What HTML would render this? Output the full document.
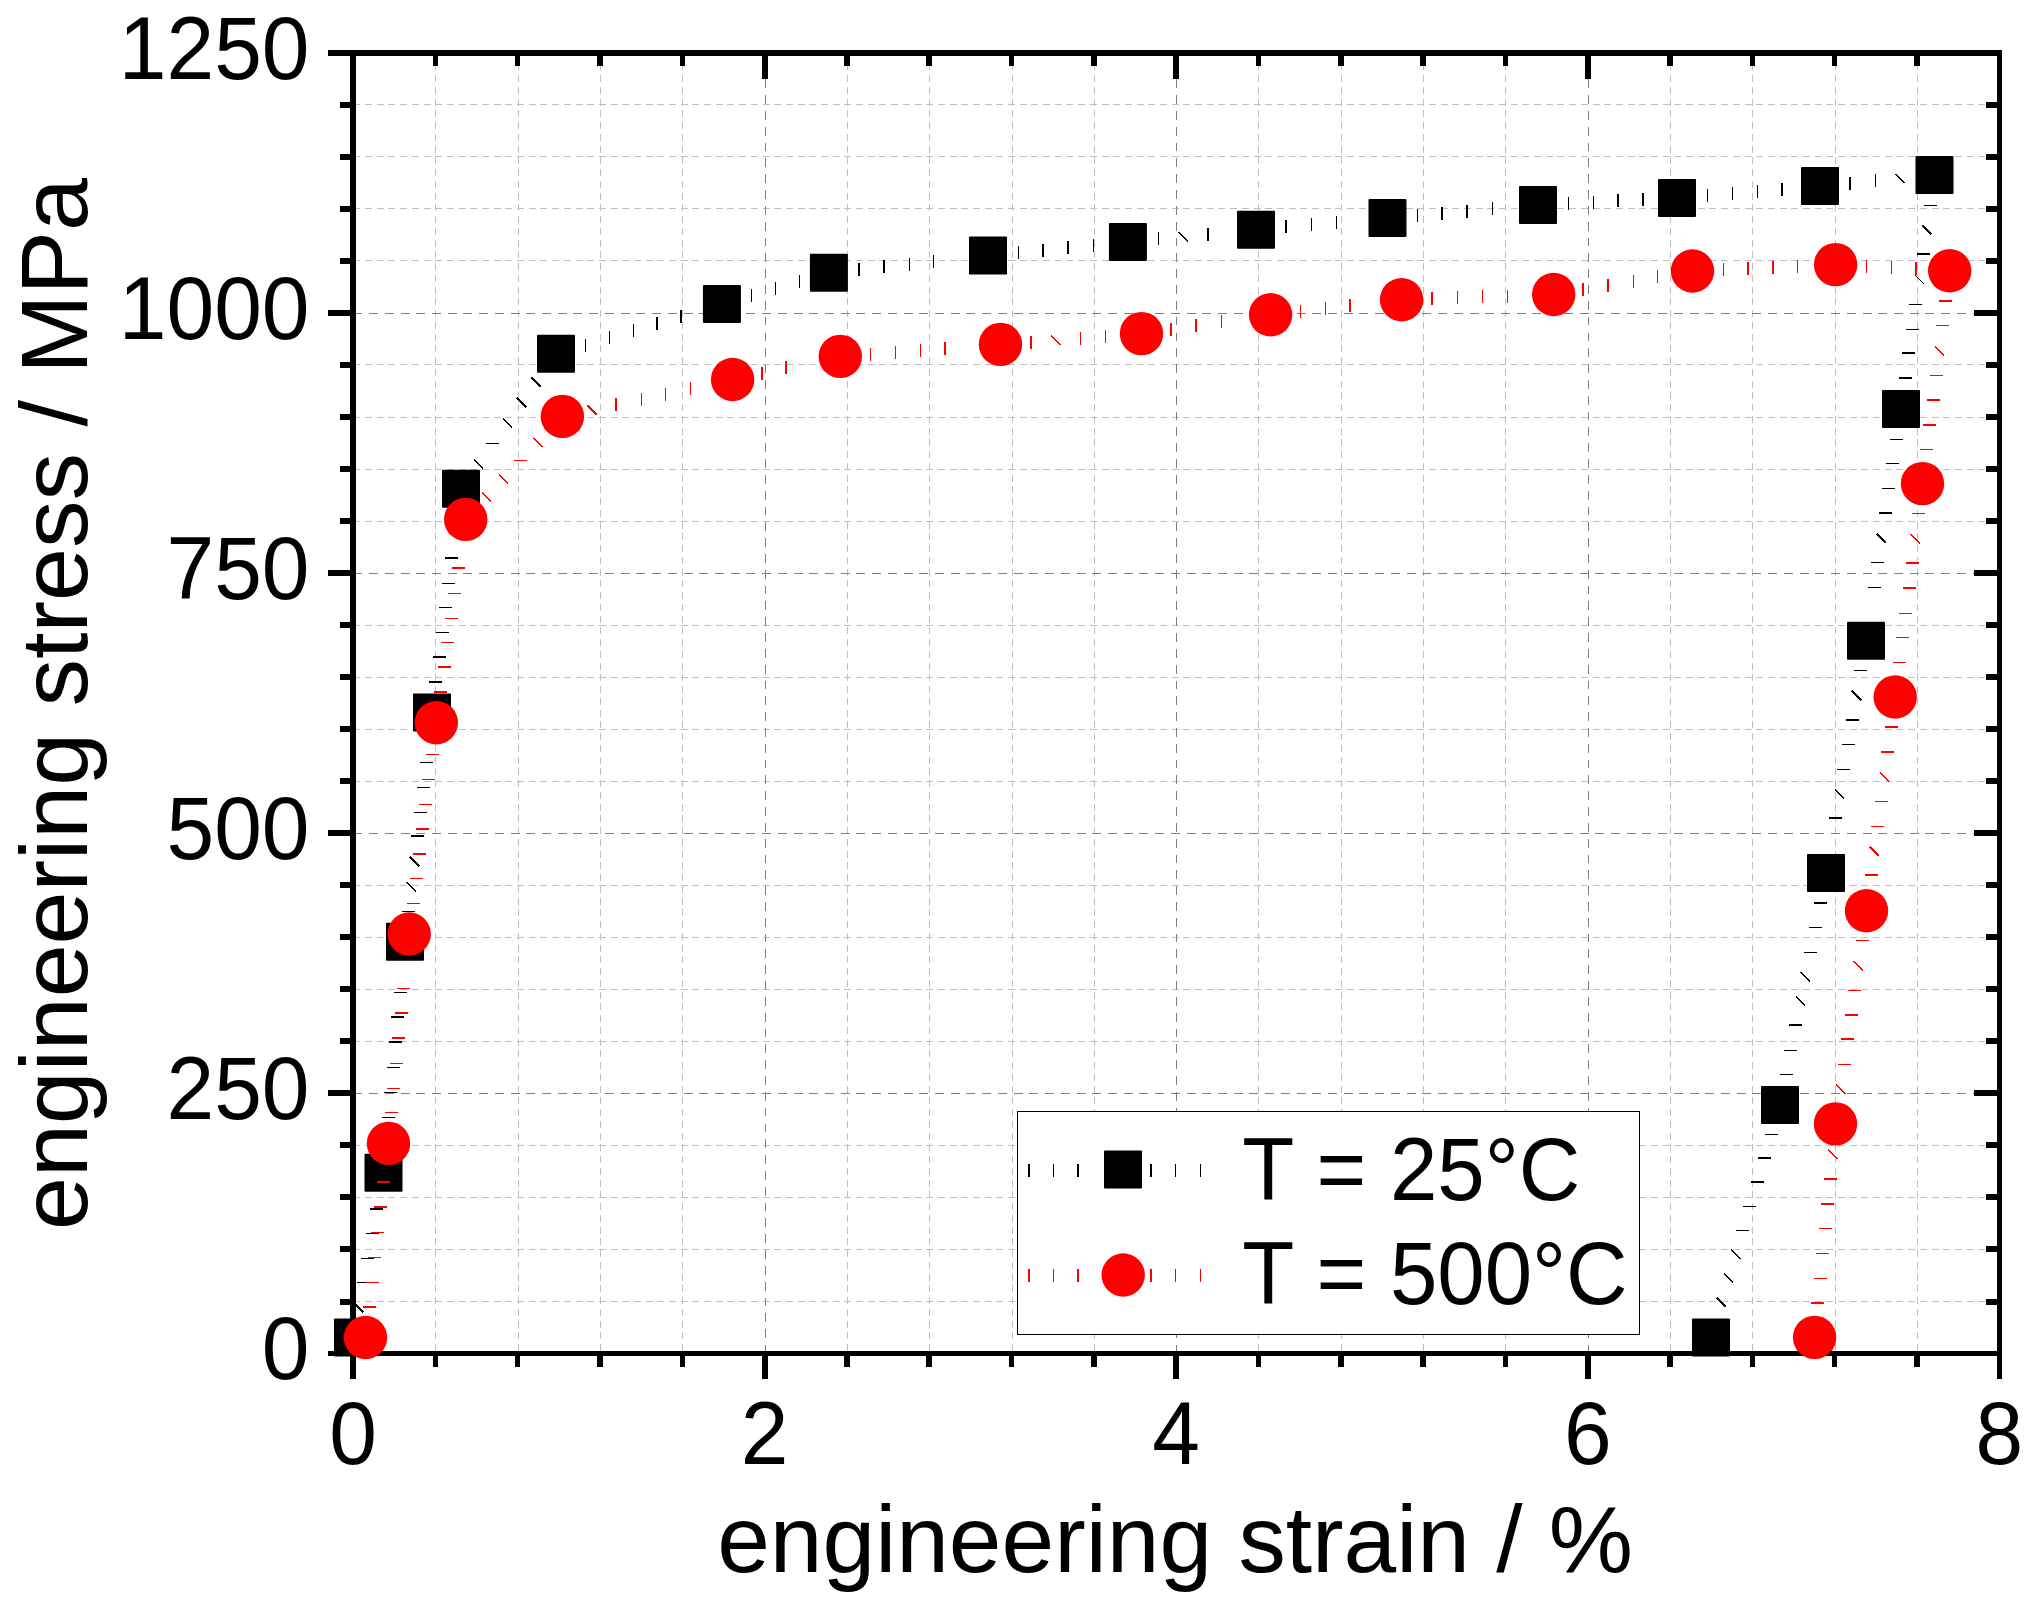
<!DOCTYPE html>
<html lang="en"><head><meta charset="utf-8"><title>engineering stress / strain</title>
<style>html,body{margin:0;padding:0;background:#fff}body{width:2033px;height:1606px;overflow:hidden}svg{display:block}text{font-family:"Liberation Sans", sans-serif;fill:#000}</style>
</head><body>
<svg width="2033" height="1606" viewBox="0 0 2033 1606">
<rect x="0" y="0" width="2033" height="1606" fill="#fff"/>
<g fill="none" stroke-width="1" shape-rendering="crispEdges">
<g stroke="#bfbfbf">
<g stroke-dasharray="7 4.75" stroke-dashoffset="1.4">
<line x1="435.5" y1="53" x2="435.5" y2="1353.5"/>
<line x1="518.5" y1="53" x2="518.5" y2="1353.5"/>
<line x1="600.5" y1="53" x2="600.5" y2="1353.5"/>
<line x1="682.5" y1="53" x2="682.5" y2="1353.5"/>
<line x1="847.5" y1="53" x2="847.5" y2="1353.5"/>
<line x1="929.5" y1="53" x2="929.5" y2="1353.5"/>
<line x1="1012.5" y1="53" x2="1012.5" y2="1353.5"/>
<line x1="1094.5" y1="53" x2="1094.5" y2="1353.5"/>
<line x1="1258.5" y1="53" x2="1258.5" y2="1353.5"/>
<line x1="1341.5" y1="53" x2="1341.5" y2="1353.5"/>
<line x1="1423.5" y1="53" x2="1423.5" y2="1353.5"/>
<line x1="1505.5" y1="53" x2="1505.5" y2="1353.5"/>
<line x1="1670.5" y1="53" x2="1670.5" y2="1353.5"/>
<line x1="1752.5" y1="53" x2="1752.5" y2="1353.5"/>
<line x1="1835.5" y1="53" x2="1835.5" y2="1353.5"/>
<line x1="1917.5" y1="53" x2="1917.5" y2="1353.5"/>
</g>
<g stroke-dasharray="7 4.69">
<line x1="353.4" y1="1301.5" x2="1999" y2="1301.5"/>
<line x1="353.4" y1="1249.5" x2="1999" y2="1249.5"/>
<line x1="353.4" y1="1197.5" x2="1999" y2="1197.5"/>
<line x1="353.4" y1="1145.5" x2="1999" y2="1145.5"/>
<line x1="353.4" y1="1041.5" x2="1999" y2="1041.5"/>
<line x1="353.4" y1="989.5" x2="1999" y2="989.5"/>
<line x1="353.4" y1="937.5" x2="1999" y2="937.5"/>
<line x1="353.4" y1="885.5" x2="1999" y2="885.5"/>
<line x1="353.4" y1="781.5" x2="1999" y2="781.5"/>
<line x1="353.4" y1="729.5" x2="1999" y2="729.5"/>
<line x1="353.4" y1="677.5" x2="1999" y2="677.5"/>
<line x1="353.4" y1="625.5" x2="1999" y2="625.5"/>
<line x1="353.4" y1="521.5" x2="1999" y2="521.5"/>
<line x1="353.4" y1="469.5" x2="1999" y2="469.5"/>
<line x1="353.4" y1="417.5" x2="1999" y2="417.5"/>
<line x1="353.4" y1="364.5" x2="1999" y2="364.5"/>
<line x1="353.4" y1="260.5" x2="1999" y2="260.5"/>
<line x1="353.4" y1="208.5" x2="1999" y2="208.5"/>
<line x1="353.4" y1="156.5" x2="1999" y2="156.5"/>
<line x1="353.4" y1="104.5" x2="1999" y2="104.5"/>
</g>
</g>
<g stroke="#808080">
<g stroke-dasharray="8.8 7.02" stroke-dashoffset="5.26">
<line x1="765.5" y1="53" x2="765.5" y2="1353.5"/>
<line x1="1176.5" y1="53" x2="1176.5" y2="1353.5"/>
<line x1="1588.5" y1="53" x2="1588.5" y2="1353.5"/>
</g>
<g stroke-dasharray="9 6.72">
<line x1="353.4" y1="1093.5" x2="1999" y2="1093.5"/>
<line x1="353.4" y1="833.5" x2="1999" y2="833.5"/>
<line x1="353.4" y1="573.5" x2="1999" y2="573.5"/>
<line x1="353.4" y1="313.5" x2="1999" y2="313.5"/>
</g>
</g>
</g>
<g fill="#000" shape-rendering="crispEdges">
<rect x="328" y="50" width="1674" height="6"/>
<rect x="328" y="1351" width="1674" height="5"/>
<rect x="350" y="50" width="6" height="1329"/>
<rect x="1997" y="50" width="5" height="1329"/>
<rect x="433" y="1356" width="5" height="11"/>
<rect x="433" y="56" width="5" height="10"/>
<rect x="515" y="1356" width="5" height="11"/>
<rect x="515" y="56" width="5" height="10"/>
<rect x="597" y="1356" width="6" height="11"/>
<rect x="597" y="56" width="6" height="10"/>
<rect x="680" y="1356" width="5" height="11"/>
<rect x="680" y="56" width="5" height="10"/>
<rect x="762" y="1356" width="6" height="23"/>
<rect x="762" y="56" width="6" height="23"/>
<rect x="844" y="1356" width="6" height="11"/>
<rect x="844" y="56" width="6" height="10"/>
<rect x="926" y="1356" width="6" height="11"/>
<rect x="926" y="56" width="6" height="10"/>
<rect x="1009" y="1356" width="5" height="11"/>
<rect x="1009" y="56" width="5" height="10"/>
<rect x="1091" y="1356" width="6" height="11"/>
<rect x="1091" y="56" width="6" height="10"/>
<rect x="1173" y="1356" width="6" height="23"/>
<rect x="1173" y="56" width="6" height="23"/>
<rect x="1256" y="1356" width="5" height="11"/>
<rect x="1256" y="56" width="5" height="10"/>
<rect x="1338" y="1356" width="6" height="11"/>
<rect x="1338" y="56" width="6" height="10"/>
<rect x="1420" y="1356" width="6" height="11"/>
<rect x="1420" y="56" width="6" height="10"/>
<rect x="1503" y="1356" width="5" height="11"/>
<rect x="1503" y="56" width="5" height="10"/>
<rect x="1585" y="1356" width="6" height="23"/>
<rect x="1585" y="56" width="6" height="23"/>
<rect x="1667" y="1356" width="6" height="11"/>
<rect x="1667" y="56" width="6" height="10"/>
<rect x="1750" y="1356" width="5" height="11"/>
<rect x="1750" y="56" width="5" height="10"/>
<rect x="1832" y="1356" width="5" height="11"/>
<rect x="1832" y="56" width="5" height="10"/>
<rect x="1914" y="1356" width="6" height="11"/>
<rect x="1914" y="56" width="6" height="10"/>
<rect x="340" y="1299" width="10" height="6"/>
<rect x="1986" y="1299" width="11" height="6"/>
<rect x="340" y="1246" width="10" height="6"/>
<rect x="1986" y="1246" width="11" height="6"/>
<rect x="340" y="1194" width="10" height="6"/>
<rect x="1986" y="1194" width="11" height="6"/>
<rect x="340" y="1142" width="10" height="6"/>
<rect x="1986" y="1142" width="11" height="6"/>
<rect x="328" y="1090" width="22" height="6"/>
<rect x="1974" y="1090" width="23" height="6"/>
<rect x="340" y="1038" width="10" height="6"/>
<rect x="1986" y="1038" width="11" height="6"/>
<rect x="340" y="986" width="10" height="6"/>
<rect x="1986" y="986" width="11" height="6"/>
<rect x="340" y="934" width="10" height="6"/>
<rect x="1986" y="934" width="11" height="6"/>
<rect x="340" y="882" width="10" height="6"/>
<rect x="1986" y="882" width="11" height="6"/>
<rect x="328" y="830" width="22" height="6"/>
<rect x="1974" y="830" width="23" height="6"/>
<rect x="340" y="778" width="10" height="6"/>
<rect x="1986" y="778" width="11" height="6"/>
<rect x="340" y="726" width="10" height="6"/>
<rect x="1986" y="726" width="11" height="6"/>
<rect x="340" y="674" width="10" height="6"/>
<rect x="1986" y="674" width="11" height="6"/>
<rect x="340" y="622" width="10" height="6"/>
<rect x="1986" y="622" width="11" height="6"/>
<rect x="328" y="570" width="22" height="6"/>
<rect x="1974" y="570" width="23" height="6"/>
<rect x="340" y="518" width="10" height="6"/>
<rect x="1986" y="518" width="11" height="6"/>
<rect x="340" y="466" width="10" height="6"/>
<rect x="1986" y="466" width="11" height="6"/>
<rect x="340" y="414" width="10" height="6"/>
<rect x="1986" y="414" width="11" height="6"/>
<rect x="340" y="362" width="10" height="6"/>
<rect x="1986" y="362" width="11" height="6"/>
<rect x="328" y="310" width="22" height="6"/>
<rect x="1974" y="310" width="23" height="6"/>
<rect x="340" y="258" width="10" height="6"/>
<rect x="1986" y="258" width="11" height="6"/>
<rect x="340" y="206" width="10" height="6"/>
<rect x="1986" y="206" width="11" height="6"/>
<rect x="340" y="154" width="10" height="6"/>
<rect x="1986" y="154" width="11" height="6"/>
<rect x="340" y="102" width="10" height="6"/>
<rect x="1986" y="102" width="11" height="6"/>
</g>
<g fill="none" stroke="#000" shape-rendering="crispEdges">
<path d="M357.0 1282.5h13.0M361.0 1258.5h13.0M366.0 1233.5h13.0M382.0 1117.5h13.0M384.0 1092.5h13.0M387.0 1067.5h13.0M394.0 992.5h13.0M402.0 911.5h13.0M406.9 882.0l9.2 9.2M414.0 812.5h13.0M417.0 787.5h13.0M420.0 762.5h13.0M436.0 632.5h13.0M439.0 607.5h13.0M442.0 583.5h13.0M474.0 459.2l9.2 9.2M486.0 443.5h13.0M502.8 418.3l9.2 9.2M585.5 339.0v13.0M609.5 331.0v13.0M633.5 324.0v13.0M751.5 289.0v13.0M775.5 282.0v13.0M799.5 275.0v13.0M909.5 258.0v13.0M933.5 255.0v13.0M1018.5 246.0v13.0M1093.5 239.0v13.0M1158.5 232.0v13.0M1178.7 232.0l9.2 9.2M1311.5 218.0v13.0M1336.5 216.0v13.0M1417.5 209.0v13.0M1492.5 202.0v13.0M1568.5 197.0v13.0M1593.5 196.0v13.0M1707.5 189.0v13.0M1732.5 187.0v13.0M1757.5 185.0v13.0M1875.5 174.0v13.0M1895.6 173.7l9.2 9.2M1924.0 205.5h13.0M1914.9 274.9l9.2 9.2M1909.0 304.5h13.0M1906.0 329.5h13.0M1890.0 439.5h13.0M1886.0 463.5h13.0M1882.0 488.5h13.0M1871.0 562.5h13.0M1868.0 587.5h13.0M1854.0 670.5h13.0M1842.0 744.5h13.0M1837.0 769.5h13.0M1835.0 789.5l9.2 9.2M1809.0 927.5h13.0M1804.0 952.5h13.0M1800.9 972.0l9.2 9.2M1784.0 1050.5h13.0M1780.0 1074.5h13.0M1765.0 1134.5h13.0M1743.0 1206.5h13.0M1736.0 1230.5h13.0M1731.1 1249.6l9.2 9.2" stroke-width="1.3"/>
<path d="M354.0 1302.8l9.2 9.2M370.0 1209.0h13.0M380.0 1142.0h13.0M389.0 1042.0h13.0M391.0 1017.0h13.0M409.8 857.2l9.2 9.2M411.0 836.0h13.0M429.0 682.0h13.0M433.0 657.0h13.0M445.0 558.0h13.0M449.0 533.0h13.0M517.2 397.8l9.2 9.2M531.6 377.4l9.2 9.2M657.0 317.0v13.0M681.0 310.0v13.0M859.0 263.0v13.0M884.0 260.0v13.0M1043.0 244.0v13.0M1068.0 241.0v13.0M1208.0 228.0v13.0M1286.0 220.0v13.0M1442.0 207.0v13.0M1467.0 205.0v13.0M1618.0 194.0v13.0M1643.0 193.0v13.0M1782.0 183.0v13.0M1850.0 177.0v13.0M1922.0 225.4l9.2 9.2M1917.0 254.0h13.0M1902.0 353.0h13.0M1899.0 378.0h13.0M1879.0 513.0h13.0M1876.9 533.5l9.2 9.2M1852.0 691.0l9.2 9.2M1846.0 720.0h13.0M1829.0 818.0h13.0M1814.0 903.0h13.0M1796.0 996.5l9.2 9.2M1789.0 1025.0h13.0M1758.0 1158.0h13.0M1751.0 1182.0h13.0M1724.0 1273.5l9.2 9.2M1716.9 1297.5l9.2 9.2" stroke-width="2"/>
</g>
<g fill="#000">
<rect x="334.0" y="1318.5" width="38" height="38" rx="1"/>
<rect x="364.5" y="1153.8" width="38" height="38" rx="1"/>
<rect x="386.0" y="922.8" width="38" height="38" rx="1"/>
<rect x="413.0" y="693.6" width="38" height="38" rx="1"/>
<rect x="442.0" y="469.8" width="38" height="38" rx="1"/>
<rect x="537.0" y="334.8" width="38" height="38" rx="1"/>
<rect x="702.9" y="285.0" width="38" height="38" rx="1"/>
<rect x="809.9" y="253.8" width="38" height="38" rx="1"/>
<rect x="969.0" y="236.4" width="38" height="38" rx="1"/>
<rect x="1108.9" y="222.9" width="38" height="38" rx="1"/>
<rect x="1237.0" y="210.7" width="38" height="38" rx="1"/>
<rect x="1368.5" y="199.0" width="38" height="38" rx="1"/>
<rect x="1519.0" y="186.0" width="38" height="38" rx="1"/>
<rect x="1658.0" y="179.0" width="38" height="38" rx="1"/>
<rect x="1801.0" y="167.0" width="38" height="38" rx="1"/>
<rect x="1915.5" y="156.0" width="38" height="38" rx="1"/>
<rect x="1882.0" y="390.0" width="38" height="38" rx="1"/>
<rect x="1847.0" y="621.8" width="38" height="38" rx="1"/>
<rect x="1807.0" y="854.0" width="38" height="38" rx="1"/>
<rect x="1761.0" y="1086.0" width="38" height="38" rx="1"/>
<rect x="1692.0" y="1318.5" width="38" height="38" rx="1"/>
</g>
<g fill="none" stroke="#f00" shape-rendering="crispEdges">
<path d="M366.0 1282.5h13.0M368.0 1257.5h13.0M371.0 1232.5h13.0M385.0 1112.5h13.0M387.0 1088.5h13.0M390.0 1063.5h13.0M397.0 988.5h13.0M407.0 903.5h13.0M410.0 878.5h13.0M419.0 804.5h13.0M422.0 779.5h13.0M426.0 754.5h13.0M441.0 642.5h13.0M445.0 618.5h13.0M448.0 593.5h13.0M499.2 474.3l9.2 9.2M514.0 460.5h13.0M533.4 437.8l9.2 9.2M641.5 393.0v13.0M665.5 388.0v13.0M690.5 382.0v13.0M870.5 348.0v13.0M895.5 346.0v13.0M920.5 344.0v13.0M1051.3 335.6l9.2 9.2M1080.5 332.0v13.0M1105.5 330.0v13.0M1221.5 315.0v13.0M1300.5 305.0v13.0M1325.5 302.0v13.0M1457.5 291.0v13.0M1482.5 290.0v13.0M1507.5 290.0v13.0M1633.5 275.0v13.0M1657.5 270.0v13.0M1723.5 263.0v13.0M1797.5 260.0v13.0M1866.5 260.0v13.0M1891.5 261.0v13.0M1936.0 325.5h13.0M1934.9 346.2l9.2 9.2M1930.0 375.5h13.0M1920.0 449.5h13.0M1912.0 513.5h13.0M1910.8 534.2l9.2 9.2M1899.0 613.5h13.0M1896.0 637.5h13.0M1893.0 662.5h13.0M1879.9 772.3l9.2 9.2M1875.0 801.5h13.0M1871.0 826.5h13.0M1856.0 940.5h13.0M1853.9 961.1l9.2 9.2M1848.0 990.5h13.0M1838.0 1064.5h13.0M1835.9 1084.8l9.2 9.2M1827.9 1149.8l9.2 9.2M1819.0 1228.5h13.0M1816.0 1253.5h13.0M1814.0 1278.5h13.0" stroke-width="1.3"/>
<path d="M363.0 1307.0h13.0M374.0 1207.0h13.0M377.0 1182.0h13.0M392.0 1038.0h13.0M395.0 1013.0h13.0M413.0 854.0h13.0M416.0 829.0h13.0M434.0 692.0h13.0M438.0 667.0h13.0M452.0 568.0h13.0M482.0 492.5l9.2 9.2M587.7 405.3l9.2 9.2M616.0 398.0v13.0M762.0 367.0v13.0M786.0 361.0v13.0M945.0 342.0v13.0M1031.0 336.0v13.0M1171.0 323.0v13.0M1196.0 319.0v13.0M1350.0 299.0v13.0M1432.0 292.0v13.0M1583.0 283.0v13.0M1608.0 279.0v13.0M1748.0 262.0v13.0M1773.0 261.0v13.0M1916.0 262.0v13.0M1939.0 301.0h13.0M1927.0 400.0h13.0M1923.0 425.0h13.0M1906.0 563.0h13.0M1903.0 588.0h13.0M1885.0 727.0h13.0M1881.0 752.0h13.0M1869.9 846.6l9.2 9.2M1865.0 875.0h13.0M1845.0 1015.0h13.0M1841.0 1039.0h13.0M1824.0 1179.0h13.0M1821.0 1204.0h13.0M1811.0 1303.0h13.0" stroke-width="2"/>
</g>
<g fill="#f00">
<circle cx="365.5" cy="1337.5" r="21.7"/>
<circle cx="388.5" cy="1143.4" r="21.7"/>
<circle cx="409.2" cy="934.0" r="21.7"/>
<circle cx="436.3" cy="722.7" r="21.7"/>
<circle cx="465.7" cy="519.4" r="21.7"/>
<circle cx="562.4" cy="416.4" r="21.7"/>
<circle cx="732.6" cy="379.5" r="21.7"/>
<circle cx="840.3" cy="356.4" r="21.7"/>
<circle cx="1000.5" cy="344.4" r="21.7"/>
<circle cx="1141.5" cy="333.6" r="21.7"/>
<circle cx="1270.6" cy="314.8" r="21.7"/>
<circle cx="1401.6" cy="299.7" r="21.7"/>
<circle cx="1553.7" cy="294.5" r="21.7"/>
<circle cx="1692.5" cy="271.0" r="21.7"/>
<circle cx="1835.6" cy="264.6" r="21.7"/>
<circle cx="1949.7" cy="270.8" r="21.7"/>
<circle cx="1922.5" cy="483.6" r="21.7"/>
<circle cx="1895.2" cy="697.0" r="21.7"/>
<circle cx="1866.5" cy="910.7" r="21.7"/>
<circle cx="1835.5" cy="1123.9" r="21.7"/>
<circle cx="1814.6" cy="1337.4" r="21.7"/>
</g>
<rect x="1017.5" y="1111.5" width="622" height="222.5" fill="#fff" stroke="#000" stroke-width="1" shape-rendering="crispEdges"/>
<g stroke-width="1.6" shape-rendering="crispEdges">
<line x1="1029.2" y1="1164" x2="1029.2" y2="1177" stroke="#000"/>
<line x1="1029.2" y1="1268.5" x2="1029.2" y2="1281.5" stroke="#f00"/>
<line x1="1053.6" y1="1164" x2="1053.6" y2="1177" stroke="#000"/>
<line x1="1053.6" y1="1268.5" x2="1053.6" y2="1281.5" stroke="#f00"/>
<line x1="1078.2" y1="1164" x2="1078.2" y2="1177" stroke="#000"/>
<line x1="1078.2" y1="1268.5" x2="1078.2" y2="1281.5" stroke="#f00"/>
<line x1="1151.0" y1="1164" x2="1151.0" y2="1177" stroke="#000"/>
<line x1="1151.0" y1="1268.5" x2="1151.0" y2="1281.5" stroke="#f00"/>
<line x1="1175.6" y1="1164" x2="1175.6" y2="1177" stroke="#000"/>
<line x1="1175.6" y1="1268.5" x2="1175.6" y2="1281.5" stroke="#f00"/>
<line x1="1200.6" y1="1164" x2="1200.6" y2="1177" stroke="#000"/>
<line x1="1200.6" y1="1268.5" x2="1200.6" y2="1281.5" stroke="#f00"/>
</g>
<rect x="1104" y="1150.5" width="38" height="38" rx="1" fill="#000"/>
<circle cx="1123.2" cy="1275" r="21.7" fill="#f00"/>
<g font-size="85.2">
<text transform="translate(1242.3 1199.7) scale(1 1.04)">T = 25°C</text>
<text transform="translate(1242.3 1304.4) scale(1 1.04)">T = 500°C</text>
</g>
<g font-size="85.7" text-anchor="end">
<text transform="translate(309.5 1379.3) scale(1 1.04)">0</text>
<text transform="translate(309.5 1119.2) scale(1 1.04)">250</text>
<text transform="translate(309.5 859.0) scale(1 1.04)">500</text>
<text transform="translate(309.5 598.9) scale(1 1.04)">750</text>
<text transform="translate(309.5 338.8) scale(1 1.04)">1000</text>
<text transform="translate(309.5 78.6) scale(1 1.04)">1250</text>
</g>
<g font-size="85.7" text-anchor="middle">
<text transform="translate(353.1 1464.2) scale(1 1.04)">0</text>
<text transform="translate(764.7 1464.2) scale(1 1.04)">2</text>
<text transform="translate(1176.2 1464.2) scale(1 1.04)">4</text>
<text transform="translate(1587.8 1464.2) scale(1 1.04)">6</text>
<text transform="translate(1999.3 1464.2) scale(1 1.04)">8</text>
</g>
<text x="717.2" y="1572" font-size="94.7">engineering strain / %</text>
<text transform="translate(86.7 1230) rotate(-90)" font-size="95.1">engineering stress / MPa</text>
</svg>
</body></html>
